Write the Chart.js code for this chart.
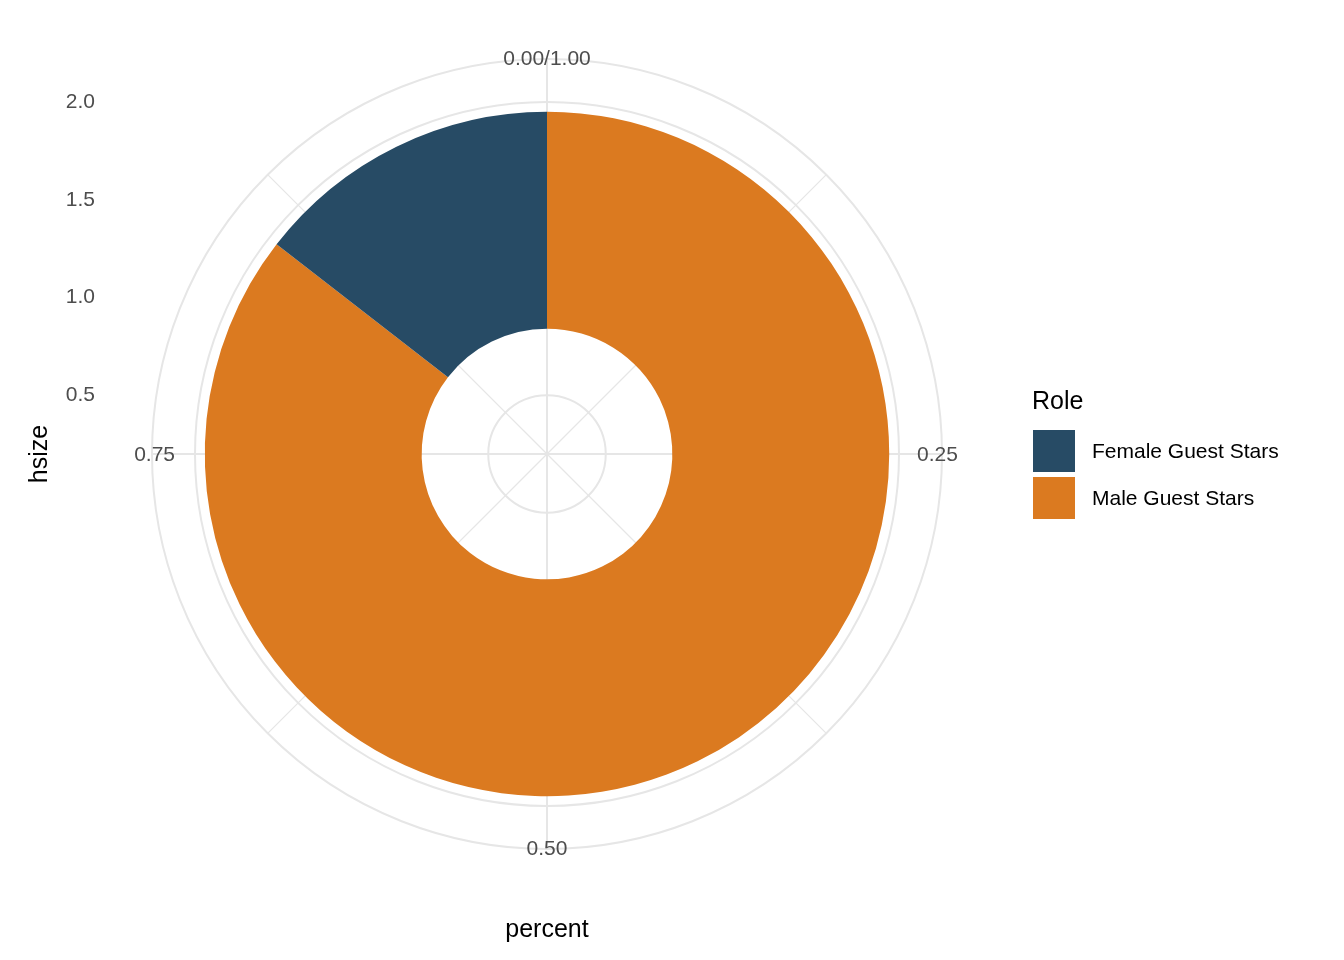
<!DOCTYPE html>
<html>
<head>
<meta charset="utf-8">
<script src="https://cdn.jsdelivr.net/npm/chart.js@4/dist/chart.umd.min.js"></script>
<style>
  html, body { margin: 0; padding: 0; background: #fff; }
  #wrap { width: 1344px; height: 960px; position: relative; }
</style>
</head>
<body>
<div id="wrap"><canvas id="chart" width="1344" height="960"></canvas></div>
<script>
// data
const roles = ["Male Guest Stars", "Female Guest Stars"];
const percents = [0.855, 0.145];
const roleColors = ["#db7a20", "#274b65"];
const legendOrder = [1, 0];
const angleTicks = ["0.00/1.00", "0.25", "0.50", "0.75"];
const hsizeTicks = [0.5, 1.0, 1.5, 2.0];
const ringInner = 1.05, ringOuter = 1.95;

// radial mapping hsize -> pixels
const pxPerUnit = 195.5, rOffset = -39, panelR = 395;
function rOf(v) { return v * pxPerUnit + rOffset; }

const font = "Liberation Sans, Arial, sans-serif";

const polarGrid = {
  id: "polarGrid",
  beforeDatasetsDraw(chart) {
    const ctx = chart.ctx;
    const m = chart.getDatasetMeta(0).data[0];
    const cx = m.x, cy = m.y;
    ctx.save();
    ctx.strokeStyle = "#e6e6e6";
    ctx.lineWidth = 2;
    hsizeTicks.forEach(v => {
      ctx.beginPath(); ctx.arc(cx, cy, rOf(v), 0, Math.PI * 2); ctx.stroke();
    });
    ctx.beginPath(); ctx.arc(cx, cy, panelR, 0, Math.PI * 2); ctx.stroke();
    for (let i = 0; i < 8; i++) {
      const a = i * Math.PI / 4;
      ctx.lineWidth = i % 2 === 0 ? 2 : 1.2;
      ctx.beginPath(); ctx.moveTo(cx, cy);
      ctx.lineTo(cx + panelR * Math.sin(a), cy - panelR * Math.cos(a));
      ctx.stroke();
    }
    ctx.restore();
  },
  afterDraw(chart) {
    const ctx = chart.ctx;
    const m = chart.getDatasetMeta(0).data[0];
    const cx = m.x, cy = m.y;
    ctx.save();
    ctx.fillStyle = "#4d4d4d";
    ctx.font = "21px " + font;
    ctx.textBaseline = "middle";
    ctx.textAlign = "center";
    ctx.fillText(angleTicks[0], cx, cy - panelR);
    ctx.fillText(angleTicks[2], cx, cy + panelR);
    ctx.textAlign = "left";
    ctx.fillText(angleTicks[1], cx + panelR - 25, cy + 1);
    ctx.textAlign = "right";
    ctx.fillText(angleTicks[3], cx - panelR + 23, cy + 1);
    hsizeTicks.forEach(v => ctx.fillText(v.toFixed(1), 95, cy - rOf(v)));
    // axis titles
    ctx.fillStyle = "#000";
    ctx.font = "25px " + font;
    ctx.textAlign = "center";
    ctx.fillText("percent", cx, 930);
    ctx.save();
    ctx.translate(40, cy); ctx.rotate(-Math.PI / 2);
    ctx.fillText("hsize", 0, 0);
    ctx.restore();
    // legend
    ctx.textAlign = "left";
    ctx.fillText("Role", 1032, 402);
    ctx.font = "21px " + font;
    legendOrder.forEach((idx, k) => {
      const y = 430 + k * 47;
      ctx.fillStyle = roleColors[idx];
      ctx.fillRect(1033, y, 42, 42);
      ctx.fillStyle = "#000";
      ctx.fillText(roles[idx], 1092, y + 22);
    });
    ctx.restore();
  }
};

new Chart(document.getElementById("chart"), {
  type: "doughnut",
  data: {
    labels: roles,
    datasets: [{
      data: percents,
      backgroundColor: roleColors,
      borderWidth: 0
    }]
  },
  options: {
    responsive: false,
    animation: false,
    radius: rOf(ringOuter),
    cutout: rOf(ringInner),
    layout: { padding: { left: 0, right: 250, top: 0, bottom: 52 } },
    plugins: { legend: { display: false }, tooltip: { enabled: false } }
  },
  plugins: [polarGrid]
});
</script>
</body>
</html>
